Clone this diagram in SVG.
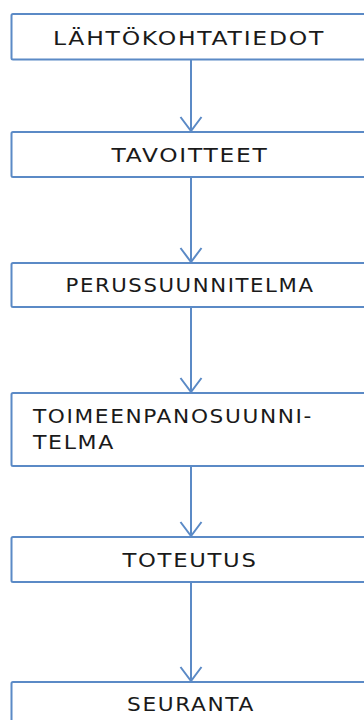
<svg xmlns="http://www.w3.org/2000/svg" width="364" height="720" viewBox="0 0 364 720">
<style>
.box{fill:#fff;stroke:#5b8ac6;stroke-width:2}
.lbl{font-family:"DejaVu Sans","Liberation Sans",Arial,sans-serif;font-size:20px;letter-spacing:1.5px;fill:#1a1a1a}
.c{text-anchor:middle}
.conn{stroke:#5b8ac6;stroke-width:2;fill:none}
</style>
<defs>
<marker id="arr" viewBox="0 0 16 24" refX="15" refY="12" markerWidth="16" markerHeight="24" markerUnits="userSpaceOnUse" orient="auto">
<path d="M1,1.5 L15,12 L1,22.5" fill="none" stroke="#5b8ac6" stroke-width="2"/>
</marker>
</defs>
<rect width="364" height="720" fill="#fff"/>
<g id="connectors">
<line class="conn" x1="191" y1="60" x2="191" y2="131" marker-end="url(#arr)"/>
<line class="conn" x1="191" y1="177" x2="191" y2="262" marker-end="url(#arr)"/>
<line class="conn" x1="191" y1="307" x2="191" y2="392" marker-end="url(#arr)"/>
<line class="conn" x1="191" y1="466" x2="191" y2="536" marker-end="url(#arr)"/>
<line class="conn" x1="191" y1="582" x2="191" y2="681" marker-end="url(#arr)"/>
</g>
<g id="n1"><rect class="box" x="11.5" y="14" width="370" height="45.5" rx="1.5"/><text class="lbl c" x="189" y="45" textLength="272" lengthAdjust="spacingAndGlyphs">LÄHTÖKOHTATIEDOT</text></g>
<g id="n2"><rect class="box" x="11.5" y="132" width="370" height="45" rx="1.5"/><text class="lbl c" x="190" y="162" textLength="157" lengthAdjust="spacingAndGlyphs">TAVOITTEET</text></g>
<g id="n3"><rect class="box" x="11.5" y="263" width="370" height="44" rx="1.5"/><text class="lbl c" x="190" y="292" textLength="249" lengthAdjust="spacingAndGlyphs">PERUSSUUNNITELMA</text></g>
<g id="n4"><rect class="box" x="11.5" y="393" width="370" height="73" rx="1.5"/><text class="lbl" x="33" y="423" textLength="280" lengthAdjust="spacingAndGlyphs">TOIMEENPANOSUUNNI-</text><text class="lbl" x="33" y="449" textLength="82" lengthAdjust="spacingAndGlyphs">TELMA</text></g>
<g id="n5"><rect class="box" x="11.5" y="537" width="370" height="45" rx="1.5"/><text class="lbl c" x="190" y="567" textLength="135" lengthAdjust="spacingAndGlyphs">TOTEUTUS</text></g>
<g id="n6"><rect class="box" x="11.5" y="682" width="370" height="60" rx="1.5"/><text class="lbl c" x="191" y="711" textLength="128" lengthAdjust="spacingAndGlyphs">SEURANTA</text></g>
</svg>
